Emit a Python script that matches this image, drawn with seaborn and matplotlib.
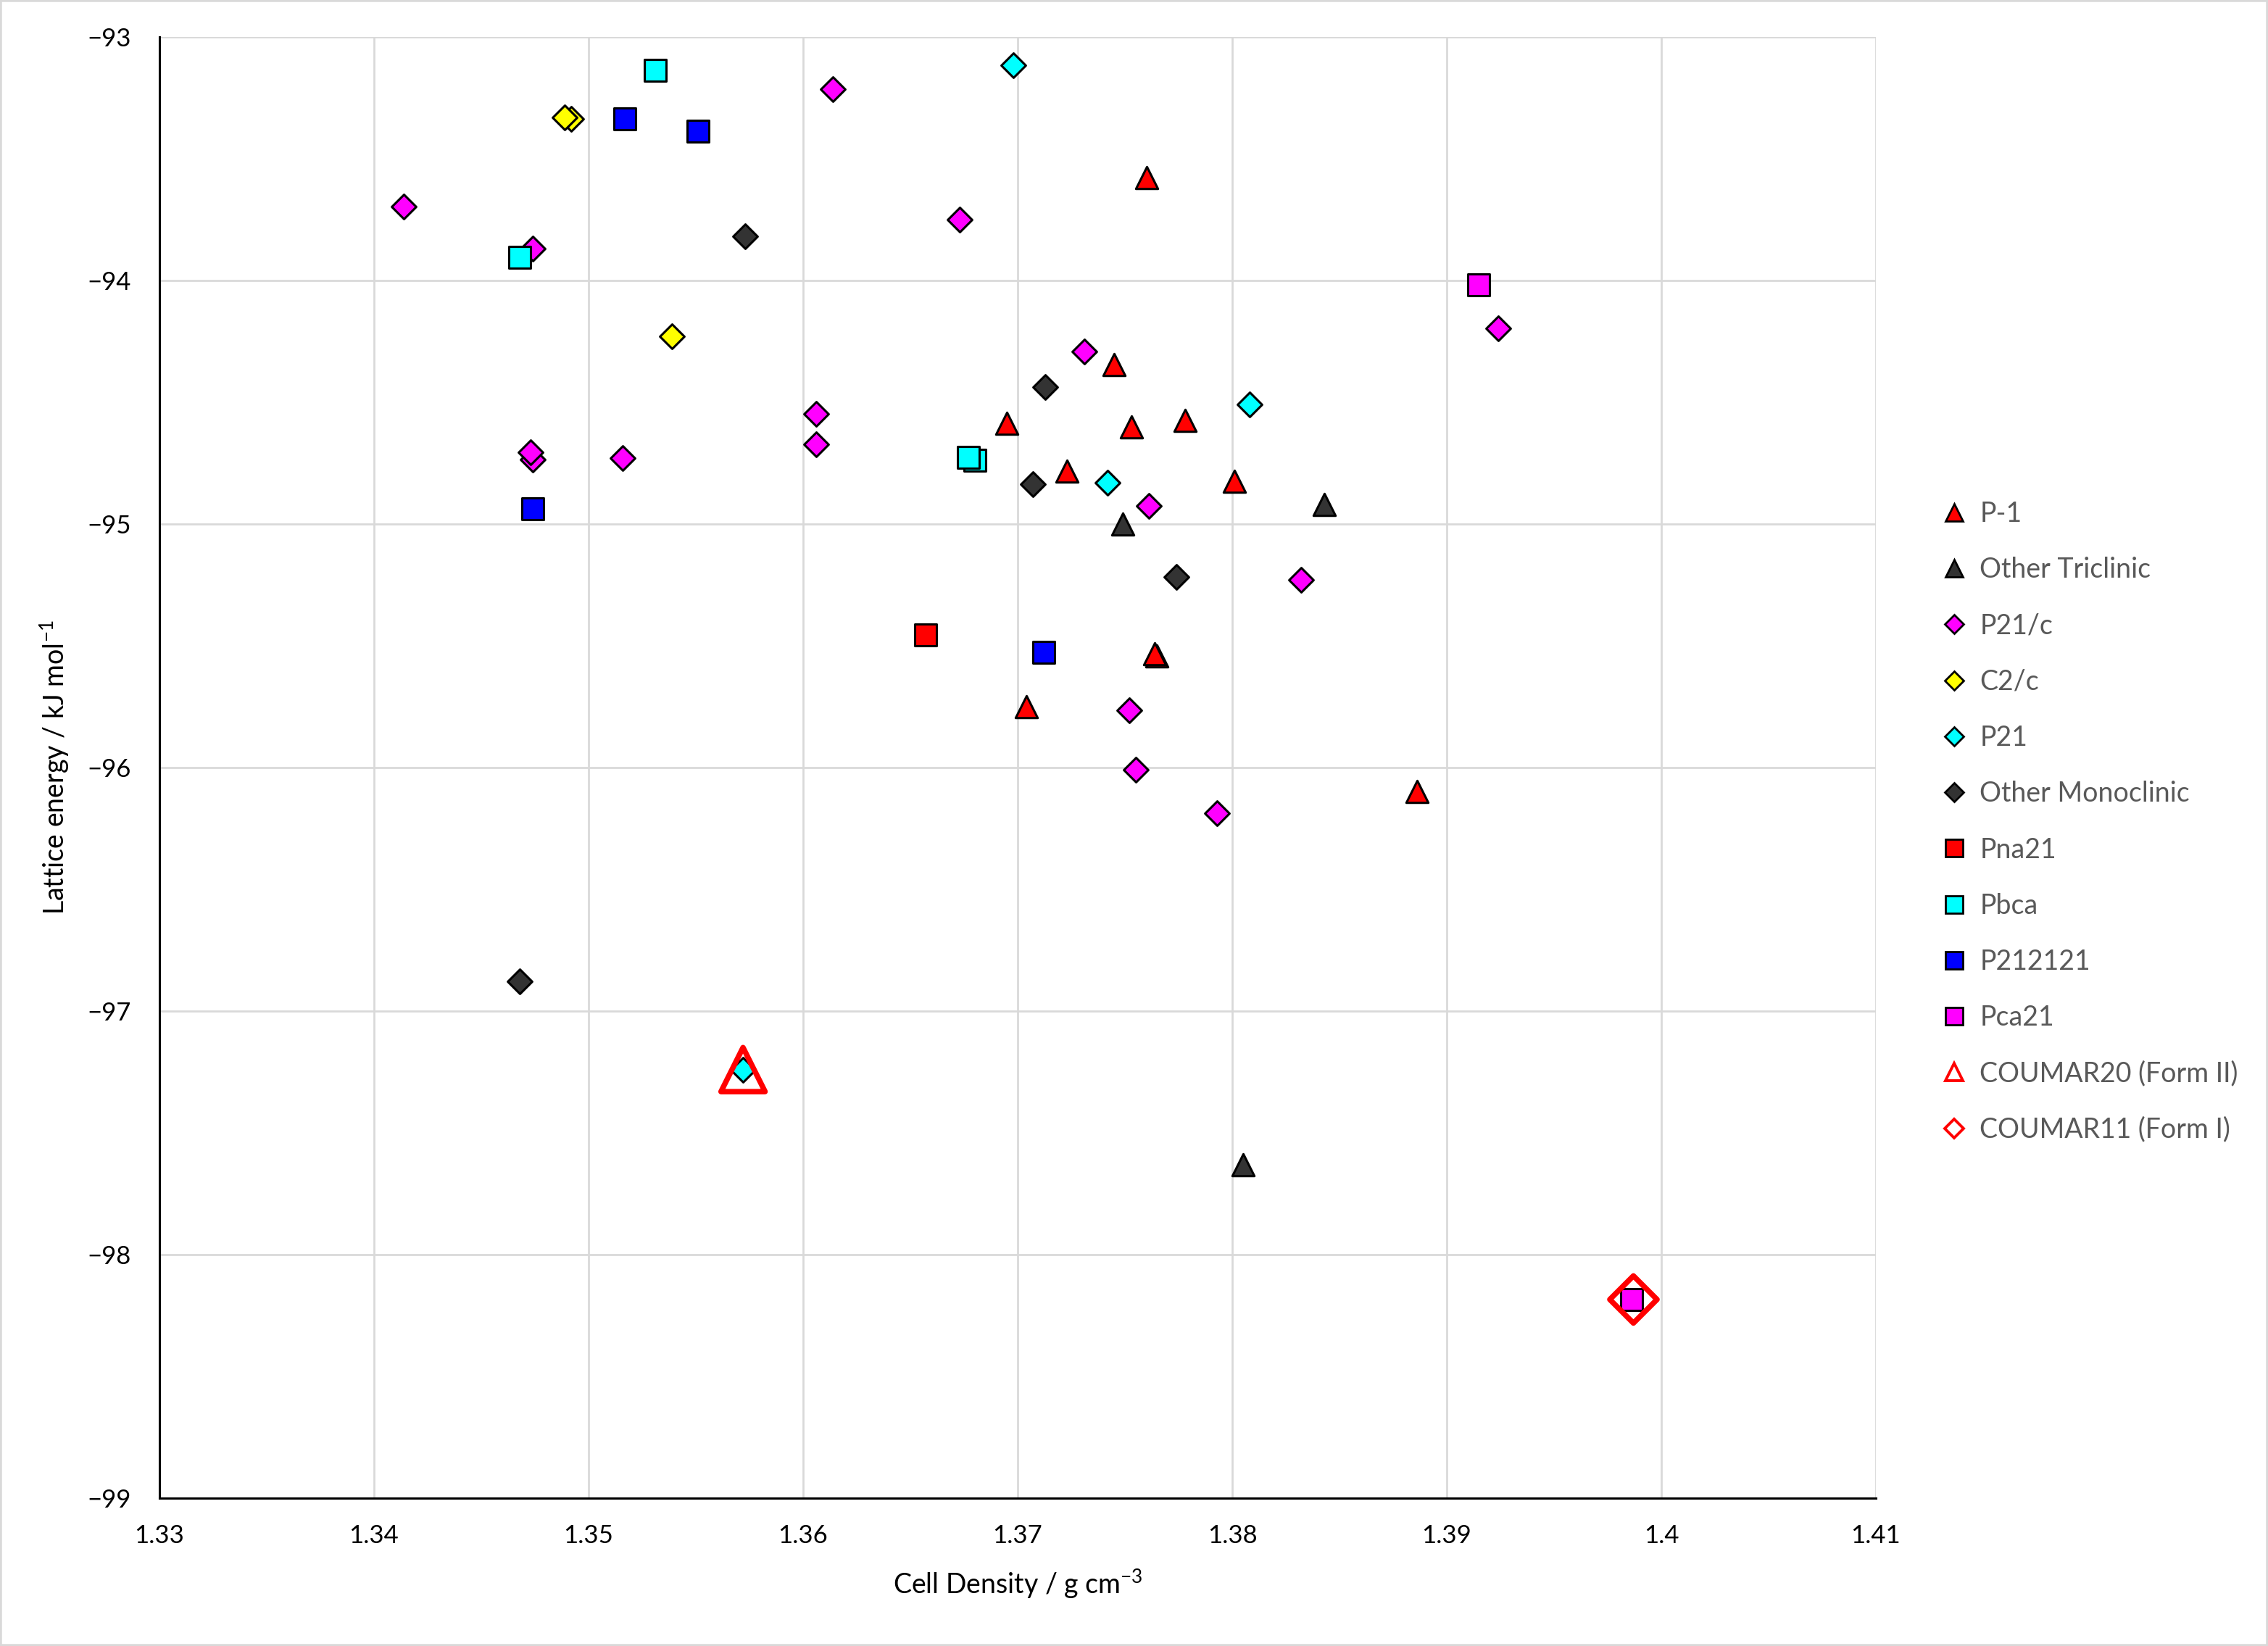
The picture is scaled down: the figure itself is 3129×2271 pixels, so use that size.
import numpy as np
import pandas as pd
import seaborn as sns
import matplotlib.pyplot as plt
import matplotlib as mpl
from matplotlib.lines import Line2D
from matplotlib.patches import Rectangle

# --- data (cell density, lattice energy) ---
p1_x = [1.3760, 1.3745, 1.3695, 1.3753, 1.3778, 1.3723, 1.3801, 1.3765, 1.3764, 1.3704, 1.3886]
p1_y = [-93.577, -94.344, -94.587, -94.600, -94.575, -94.782, -94.825, -95.542, -95.533, -95.750, -96.098]

tric_x = [1.3749, 1.3843, 1.3805]
tric_y = [-95.001, -94.920, -97.630]

p21c_x = [1.3414, 1.3474, 1.3474, 1.3473, 1.3516, 1.3614, 1.3673, 1.3606, 1.3606,
          1.3731, 1.3761, 1.3832, 1.3924, 1.3752, 1.3755, 1.3793]
p21c_y = [-93.696, -93.868, -94.736, -94.706, -94.730, -93.214, -93.749, -94.546, -94.671,
          -94.290, -94.926, -95.229, -94.195, -95.765, -96.008, -96.187]

c2c_x = [1.3492, 1.3489, 1.3539]
c2c_y = [-93.337, -93.329, -94.228]

p21_x = [1.3698, 1.3808, 1.3742, 1.3572]
p21_y = [-93.117, -94.508, -94.829, -97.240]

mono_x = [1.3573, 1.3713, 1.3707, 1.3774, 1.3468]
mono_y = [-93.818, -94.436, -94.837, -95.216, -96.879]

pna21_x = [1.3657]
pna21_y = [-95.456]

pbca_x = [1.3531, 1.3468, 1.3680, 1.3677]
pbca_y = [-93.137, -93.905, -94.737, -94.727]

p212121_x = [1.3517, 1.3551, 1.3474, 1.3712]
p212121_y = [-93.336, -93.386, -94.936, -95.527]

pca21_x = [1.3915, 1.3986]
pca21_y = [-94.017, -98.184]

form2_x = [1.3572]
form2_y = [-97.240]

form1_x = [1.3987]
form1_y = [-98.184]

x_ticks = [1.33, 1.34, 1.35, 1.36, 1.37, 1.38, 1.39, 1.40, 1.41]
x_tick_labels = ["1.33", "1.34", "1.35", "1.36", "1.37", "1.38", "1.39", "1.4", "1.41"]
y_ticks = [-93, -94, -95, -96, -97, -98, -99]

# label, x, y, marker, face, edge
series = [
    ("P-1", p1_x, p1_y, "^", "#ff0000", "black"),
    ("Other Triclinic", tric_x, tric_y, "^", "#333333", "black"),
    ("P21/c", p21c_x, p21c_y, "D", "#ff00ff", "black"),
    ("C2/c", c2c_x, c2c_y, "D", "#ffff00", "black"),
    ("P21", p21_x, p21_y, "D", "#00ffff", "black"),
    ("Other Monoclinic", mono_x, mono_y, "D", "#333333", "black"),
    ("Pna21", pna21_x, pna21_y, "s", "#ff0000", "black"),
    ("Pbca", pbca_x, pbca_y, "s", "#00ffff", "black"),
    ("P212121", p212121_x, p212121_y, "s", "#0000ff", "black"),
    ("Pca21", pca21_x, pca21_y, "s", "#ff00ff", "black"),
    ("COUMAR20 (Form II)", form2_x, form2_y, "^", "none", "#ff0000"),
    ("COUMAR11 (Form I)", form1_x, form1_y, "D", "none", "#ff0000"),
]

sns.set_theme(style="white")
plt.rcParams["font.family"] = ["Lato", "DejaVu Sans"]
mpl.rcParams.update({
    "mathtext.fontset": "custom",
    "mathtext.rm": "Lato",
    "mathtext.it": "Lato:italic",
    "mathtext.bf": "Lato:bold",
})

fig = plt.figure(figsize=(15.645, 11.355), dpi=200)
ax = fig.add_axes([0.0703, 0.0898, 0.7568, 0.8877])

sizes = {"^": 120, "D": 74, "s": 110}
for i, (label, xs, ys, m, face, edge) in enumerate(series):
    df = pd.DataFrame({"x": xs, "y": ys})
    if face == "none":
        s = 480 if m == "^" else 275
        lw = 2.7
    else:
        s = sizes[m]
        lw = 1.1
    sns.scatterplot(data=df, x="x", y="y", ax=ax, marker=m, color=face, edgecolor=edge,
                    linewidth=lw, s=s, legend=False, zorder=3 + i)

ax.set_xlim(1.33, 1.41)
ax.set_ylim(-99, -93)
ax.set_xticks(x_ticks)
ax.set_xticklabels(x_tick_labels)
ax.set_yticks(y_ticks)
ax.tick_params(axis="both", length=0, labelsize=12.5, colors="black")
ax.tick_params(axis="y", pad=14)
ax.tick_params(axis="x", pad=13)
ax.grid(True, color="#d9d9d9", linewidth=1.0, zorder=0)
ax.set_axisbelow(True)
for side in ["top", "right"]:
    ax.spines[side].set_visible(False)
for side in ["left", "bottom"]:
    ax.spines[side].set_color("black")
    ax.spines[side].set_linewidth(1.1)

ax.set_xlabel("Cell Density / g cm$^{-3}$", fontsize=13.5, color="black", labelpad=10)
ax.set_ylabel("Lattice energy / kJ mol$^{-1}$", fontsize=13.5, color="black", labelpad=8)

# legend with small markers like the original
handles = []
for label, xs, ys, m, face, edge in series:
    ms = 6.5 if m == "D" else 8.7
    mew = 1.0 if face != "none" else 1.4
    handles.append(Line2D([], [], linestyle="none", marker=m, markersize=ms,
                          markerfacecolor=face, markeredgecolor=edge,
                          markeredgewidth=mew, label=label))
fig.legend(handles=handles, loc="center left", bbox_to_anchor=(0.8555, 0.5007),
           frameon=False, fontsize=13.5, labelcolor="#595959", handlelength=1.0,
           handletextpad=0.45, labelspacing=1.1, borderpad=0, borderaxespad=0)

fig.patches.append(Rectangle((0, 0), 1, 1, transform=fig.transFigure, fill=False,
                             edgecolor="#d9d9d9", linewidth=2))

fig.savefig("out.png", dpi=200)
